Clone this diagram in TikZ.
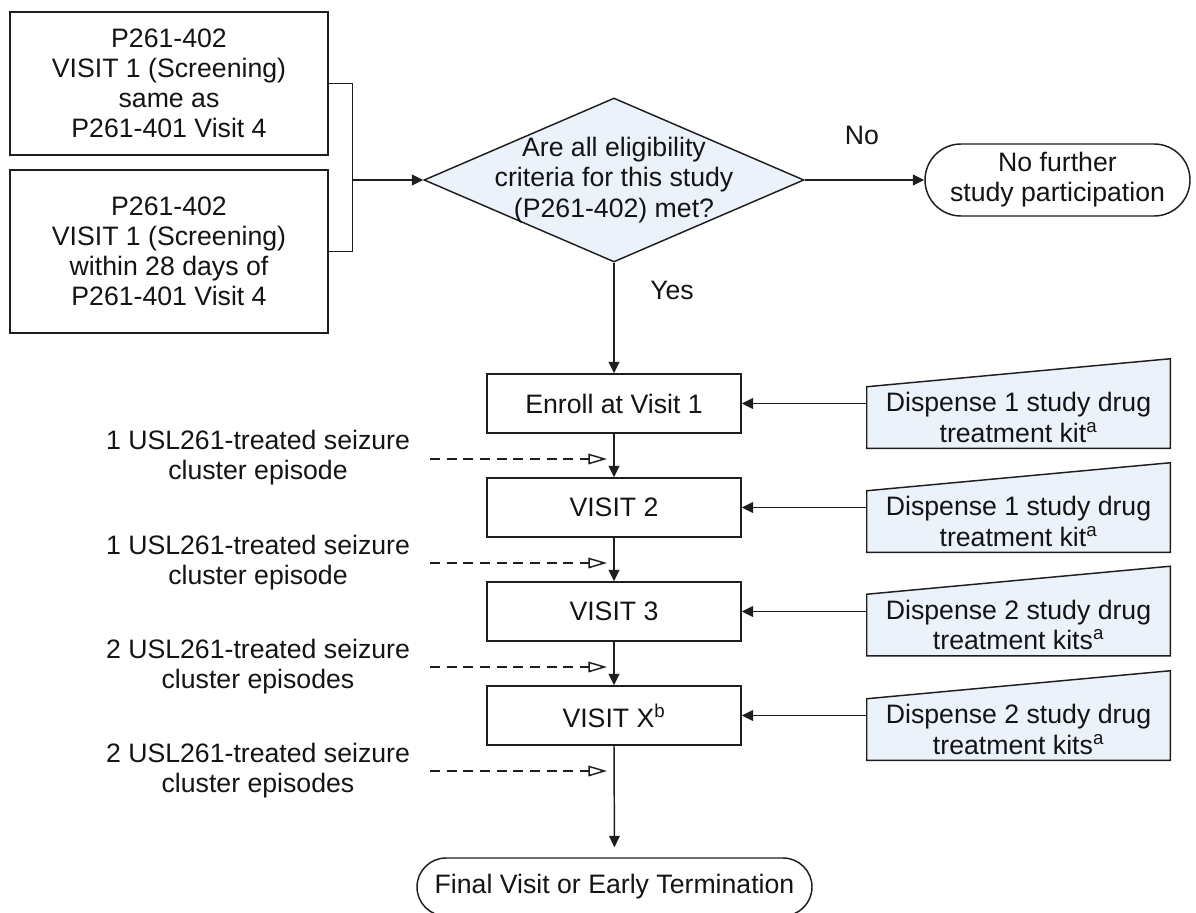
\documentclass[tikz,border=0pt]{standalone}
\usepackage{fontspec}
\setmainfont{Liberation Sans}
\usetikzlibrary{arrows.meta,shapes.geometric,calc,backgrounds}
\definecolor{ln}{RGB}{30,30,30}
\definecolor{bluef}{RGB}{236,242,250}
\definecolor{txt}{RGB}{20,20,20}
\begin{document}
\begin{tikzpicture}[x=0.75pt,y=-0.75pt,
  every node/.style={font=\fontsize{20}{22.6}\selectfont, text=txt, inner sep=0pt},
  box/.style={draw=ln, line width=1.1pt, fill=white, align=center, minimum width=238.5pt},
  visit/.style={draw=ln, line width=1.1pt, fill=white, align=center, minimum width=190.5pt, minimum height=44.25pt},
  term/.style={draw=ln, line width=1.1pt, fill=white, align=center},
  dia/.style={diamond, draw=ln, line width=1.1pt, fill=bluef, minimum width=285pt, minimum height=123pt},
  disp/.style={align=center, minimum width=227.25pt, minimum height=45.75pt},
  lbl/.style={align=center},
  conn/.style={draw=ln, line width=1.1pt},
  arr/.style={conn, -{Triangle[length=8.5pt,width=8pt]}},
  darr/.style={conn, dash pattern=on 7.5pt off 5pt, -{Triangle[open,length=14pt,width=8pt]}}
]
\useasboundingbox (0,0) rectangle (1196,913);

% left start boxes
\node[box, minimum height=107.25pt] (A) at (169,83.5) {P261-402\\VISIT 1 (Screening)\\same as\\P261-401 Visit 4};
\node[box, minimum height=122.25pt] (B) at (169,251.5) {P261-402\\VISIT 1 (Screening)\\within 28 days of\\P261-401 Visit 4};

% decision
\node[dia] (q) at (614,180) {};
\node[lbl] (qt) at (q.center) {Are all eligibility\\criteria for this study\\(P261-402) met?};

% no further participation
\node[term, rounded corners=27pt, minimum width=198.75pt, minimum height=54pt] (nf) at (1057.5,180) {No further\\study participation};

% visits
\node[visit] (enroll) at (614,403.5) {Enroll at Visit 1};
\node[visit] (v2) at (614,507.5) {VISIT 2};
\node[visit] (v3) at (614,611.5) {VISIT 3};
\node[visit] (vx) at (614,715.5) {VISIT X\textsuperscript{b}};
\node[term, rounded corners=21.75pt, minimum width=296.25pt, minimum height=43.5pt] (fin) at (614.5,887) {Final Visit or Early Termination};

% dispense boxes
\node[disp] (d1) at (1018.5,417.5) {Dispense 1 study drug\\treatment kit\textsuperscript{a}};
\node[disp] (d2) at (1018.5,521.5) {Dispense 1 study drug\\treatment kit\textsuperscript{a}};
\node[disp] (d3) at (1018.5,625) {Dispense 2 study drug\\treatment kits\textsuperscript{a}};
\node[disp] (d4) at (1018.5,729.5) {Dispense 2 study drug\\treatment kits\textsuperscript{a}};
\begin{pgfonlayer}{background}
\foreach \d in {d1,d2,d3,d4}{
  \filldraw[draw=ln, fill=bluef, line width=1.1pt, line join=miter]
    (\d.south west) -- (\d.south east) -- ($(\d.north east)+(0,21pt)$) -- (\d.north west) -- cycle;
}
\end{pgfonlayer}

% episode labels
\node[lbl] (l1) at (258,458) {1 USL261-treated seizure\\cluster episode};
\node[lbl] (l2) at (258,563) {1 USL261-treated seizure\\cluster episode};
\node[lbl] (l3) at (258,667) {2 USL261-treated seizure\\cluster episodes};
\node[lbl] (l4) at (258,771) {2 USL261-treated seizure\\cluster episodes};

% branch labels
\node (no) at (862,135) {No};
\node (yes) at (672,290) {Yes};

% connectors
\coordinate (jn) at (352.5,180);
\draw[conn] (A.east) -| (jn);
\draw[conn] (B.east) -| (jn);
\draw[arr] (jn) -- (q.west);
\draw[arr] (q.east) -- (nf.west);
\draw[arr] (q.south) -- (enroll.north);
\draw[arr] (enroll.south) -- (v2.north);
\draw[arr] (v2.south) -- (v3.north);
\draw[arr] (v3.south) -- (vx.north);
\draw[arr, shorten >=7.5pt] (vx.south) -- (fin.north);

\draw[arr] (enroll.east -| d1.west) -- (enroll.east);
\draw[arr] (v2.east -| d2.west) -- (v2.east);
\draw[arr] (v3.east -| d3.west) -- (v3.east);
\draw[arr] (vx.east -| d4.west) -- (vx.east);

\coordinate (e1s) at (430,459); \coordinate (e1e) at (607,459);
\coordinate (e2s) at (430,563); \coordinate (e2e) at (607,563);
\coordinate (e3s) at (430,667); \coordinate (e3e) at (607,667);
\coordinate (e4s) at (430,771); \coordinate (e4e) at (607,771);
\draw[darr] (e1s) -- (e1e);
\draw[darr] (e2s) -- (e2e);
\draw[darr] (e3s) -- (e3e);
\draw[darr] (e4s) -- (e4e);
\end{tikzpicture}
\end{document}
